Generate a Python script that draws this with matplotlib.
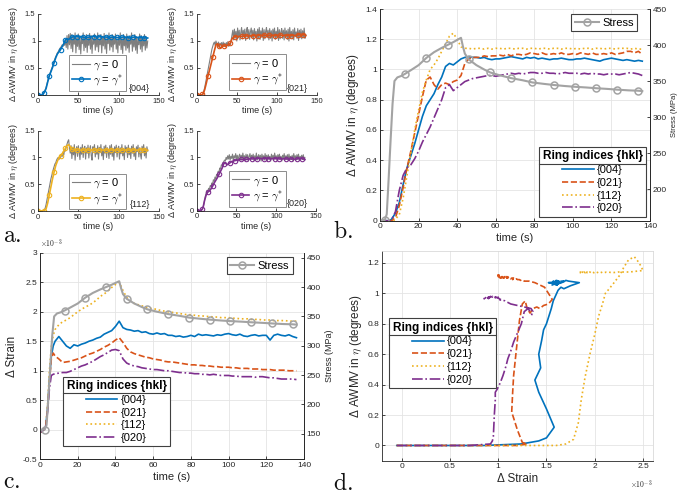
import numpy as np
import matplotlib
matplotlib.use('Agg')
import matplotlib.pyplot as plt
from matplotlib.lines import Line2D
from matplotlib.ticker import FuncFormatter

plt.rcParams['font.family'] = ['Liberation Sans', 'DejaVu Sans']
plt.rcParams['mathtext.fontset'] = 'cm'
plt.rcParams['axes.linewidth'] = 0.6

# ---------------- data ----------------
# sampling times (s) for the smoothed AWMV / strain curves
time_s = [0, 2, 3, 4, 5, 6, 7] + list(range(8, 137, 2))
# sampling times (s) for the raw (gamma = 0) AWMV curves in panel a
time_raw = list(range(0, 137))

hkl_labels = ['{004}', '{021}', '{112}', '{020}']

# Delta AWMV in eta (degrees), gamma = gamma*
awmv_004 = [0, 0, 0, 0, 0, 0.01, 0.03,
            0.05, 0.12, 0.24, 0.35, 0.43, 0.51, 0.60, 0.69, 0.76, 0.80,
            0.84, 0.90, 0.95, 1.02, 1.04, 1.03, 1.05, 1.07, 1.08, 1.085,
            1.08, 1.08, 1.075, 1.08, 1.07, 1.065, 1.07, 1.07, 1.075, 1.08,
            1.085, 1.08, 1.075, 1.07, 1.08, 1.075, 1.08, 1.07, 1.075, 1.07,
            1.065, 1.07, 1.07, 1.075, 1.07, 1.065, 1.065, 1.07, 1.07, 1.075,
            1.07, 1.065, 1.06, 1.055, 1.065, 1.07, 1.075, 1.07, 1.065, 1.06,
            1.065, 1.06, 1.055, 1.06, 1.055]
awmv_021 = [0, 0, 0, 0, 0, 0, 0.01,
            0.02, 0.10, 0.22, 0.35, 0.46, 0.58, 0.70, 0.82, 0.93, 0.95,
            0.90, 0.87, 0.90, 0.91, 0.90, 0.92, 0.93, 0.96, 1.04, 1.07,
            1.08, 1.08, 1.08, 1.09, 1.085, 1.09, 1.09, 1.095, 1.09, 1.10,
            1.09, 1.10, 1.10, 1.095, 1.10, 1.11, 1.105, 1.10, 1.11, 1.10,
            1.10, 1.105, 1.10, 1.11, 1.10, 1.10, 1.105, 1.10, 1.11, 1.105,
            1.10, 1.11, 1.10, 1.10, 1.105, 1.10, 1.11, 1.10, 1.105, 1.11,
            1.12, 1.12, 1.11, 1.12, 1.10]
awmv_112 = [0, 0, 0, 0, 0, 0, 0,
            0.01, 0.04, 0.15, 0.30, 0.45, 0.60, 0.73, 0.85, 0.93, 1.00,
            1.03, 1.07, 1.12, 1.17, 1.22, 1.24, 1.20, 1.15, 1.14, 1.14,
            1.135, 1.14, 1.14, 1.135, 1.14, 1.135, 1.14, 1.14, 1.135, 1.14,
            1.14, 1.135, 1.14, 1.14, 1.135, 1.14, 1.14, 1.135, 1.14, 1.14,
            1.135, 1.14, 1.14, 1.135, 1.14, 1.14, 1.135, 1.14, 1.135, 1.14,
            1.14, 1.135, 1.14, 1.14, 1.135, 1.14, 1.14, 1.135, 1.14, 1.14,
            1.14, 1.135, 1.14, 1.135, 1.135]
awmv_020 = [0, 0, 0, 0, 0, 0.01, 0.03,
            0.06, 0.20, 0.30, 0.35, 0.37, 0.41, 0.46, 0.52, 0.57, 0.62,
            0.68, 0.74, 0.80, 0.88, 0.90, 0.86, 0.88, 0.90, 0.92, 0.93,
            0.94, 0.945, 0.95, 0.955, 0.96, 0.96, 0.955, 0.96, 0.965, 0.97,
            0.975, 0.97, 0.975, 0.97, 0.975, 0.98, 0.98, 0.975, 0.975, 0.98,
            0.975, 0.975, 0.97, 0.975, 0.98, 0.975, 0.975, 0.975, 0.97, 0.975,
            0.97, 0.975, 0.97, 0.97, 0.965, 0.97, 0.97, 0.97, 0.965, 0.97,
            0.975, 0.98, 0.975, 0.97, 0.96]

# Delta strain (x 1e-3)
strain_004 = [-0.05, 0.0, 0.05, 0.35, 0.85, 1.24, 1.42,
              1.50, 1.58, 1.50, 1.42, 1.38, 1.44, 1.42, 1.45, 1.47, 1.50,
              1.52, 1.55, 1.57, 1.62, 1.65, 1.68, 1.75, 1.84, 1.73, 1.70,
              1.69, 1.67, 1.68, 1.65, 1.66, 1.63, 1.62, 1.64, 1.62, 1.63,
              1.60, 1.60, 1.58, 1.59, 1.57, 1.58, 1.60, 1.58, 1.62, 1.60,
              1.61, 1.60, 1.59, 1.61, 1.60, 1.62, 1.63, 1.61, 1.60, 1.62,
              1.59, 1.58, 1.60, 1.61, 1.59, 1.60, 1.60, 1.52, 1.60, 1.62,
              1.60, 1.59, 1.61, 1.58, 1.56]
strain_021 = [-0.05, 0.0, 0.05, 0.35, 0.80, 1.20, 1.30,
              1.25, 1.20, 1.14, 1.15, 1.16, 1.18, 1.20, 1.22, 1.25, 1.28,
              1.30, 1.33, 1.36, 1.40, 1.43, 1.47, 1.52, 1.56, 1.48, 1.38,
              1.32, 1.29, 1.27, 1.25, 1.23, 1.22, 1.20, 1.19, 1.18, 1.16,
              1.15, 1.15, 1.14, 1.13, 1.12, 1.11, 1.10, 1.10, 1.09, 1.09,
              1.08, 1.08, 1.07, 1.07, 1.06, 1.06, 1.06, 1.05, 1.05, 1.04,
              1.04, 1.04, 1.03, 1.03, 1.03, 1.02, 1.02, 1.02, 1.01, 1.01,
              1.01, 1.01, 1.00, 1.00, 1.00]
strain_112 = [-0.05, 0.0, 0.05, 0.40, 1.00, 1.40, 1.60,
              1.70, 1.78, 1.83, 1.86, 1.90, 1.95, 2.00, 2.04, 2.08, 2.11,
              2.15, 2.20, 2.26, 2.30, 2.35, 2.41, 2.46, 2.50, 2.36, 2.24,
              2.18, 2.14, 2.12, 2.10, 2.08, 2.06, 2.05, 2.04, 2.02, 2.01,
              2.00, 1.99, 1.98, 1.97, 1.96, 1.95, 1.95, 1.94, 1.93, 1.93,
              1.92, 1.92, 1.91, 1.91, 1.90, 1.90, 1.90, 1.89, 1.89, 1.88,
              1.88, 1.88, 1.87, 1.87, 1.87, 1.86, 1.86, 1.86, 1.85, 1.85,
              1.85, 1.85, 1.84, 1.84, 1.84]
strain_020 = [-0.05, 0.0, 0.05, 0.30, 0.70, 0.92, 0.94,
              0.95, 0.96, 0.97, 0.97, 0.99, 1.02, 1.05, 1.08, 1.10, 1.13,
              1.16, 1.20, 1.24, 1.27, 1.31, 1.35, 1.36, 1.34, 1.20, 1.13,
              1.10, 1.08, 1.07, 1.05, 1.04, 1.03, 1.02, 1.02, 1.01, 1.00,
              1.00, 0.99, 0.98, 0.97, 0.97, 0.96, 0.96, 0.95, 0.95, 0.94,
              0.94, 0.93, 0.94, 0.93, 0.92, 0.92, 0.92, 0.91, 0.91, 0.90,
              0.90, 0.90, 0.90, 0.89, 0.90, 0.90, 0.89, 0.88, 0.88, 0.87,
              0.86, 0.86, 0.86, 0.86, 0.85]

# applied stress (MPa)
stress_t = [0, 2.5, 3.5, 4.5, 5.5, 6.5, 7.5, 9, 11, 13,
            16, 20, 24, 28, 32, 35, 38, 42, 43, 44,
            46, 50, 54, 57, 62, 68, 74, 79, 85, 90,
            96, 101, 107, 112, 118, 123, 129, 134, 136]
stress_mpa = [157, 157, 165, 215, 268, 318, 350, 355, 357, 360,
              365, 372, 382, 390, 396, 400, 404, 410, 398, 388,
              380, 372, 366, 362, 358, 354, 351, 348, 346, 344.5,
              343, 342, 341, 340, 339, 338, 337, 336.5, 336]

# raw AWMV (gamma = 0), 1 s steps
raw_004 = [0, 0, 0, 0, 0, 0, 0.02, 0.04, 0.06, 0.10,
           0.14, 0.20, 0.26, 0.32, 0.37, 0.41, 0.45, 0.49, 0.53, 0.58,
           0.63, 0.67, 0.71, 0.74, 0.78, 0.80, 0.83, 0.86, 0.88, 0.90,
           0.93, 0.90, 0.97, 0.92, 1.03, 0.88, 1.10, 0.85, 1.12, 0.93,
           1.14, 0.86, 1.12, 0.80, 1.08, 0.94, 1.15, 0.78, 1.06, 0.90,
           1.13, 0.84, 1.10, 0.76, 1.04, 0.95, 1.15, 0.82, 1.08, 0.88,
           1.12, 0.79, 1.06, 0.92, 1.14, 0.85, 1.10, 0.77, 1.05, 0.94,
           1.13, 0.83, 1.08, 0.89, 1.15, 0.80, 1.04, 0.93, 1.12, 0.78,
           1.08, 0.91, 1.14, 0.85, 1.06, 0.77, 1.10, 0.95, 1.15, 0.83,
           1.06, 0.89, 1.12, 0.80, 1.08, 0.94, 1.13, 0.85, 1.04, 0.78,
           1.10, 0.92, 1.15, 0.84, 1.06, 0.77, 1.12, 0.91, 1.08, 0.83,
           1.13, 0.87, 1.06, 0.79, 1.10, 0.94, 1.15, 0.81, 1.04, 0.89,
           1.12, 0.83, 1.08, 0.77, 1.06, 0.93, 1.13, 0.85, 1.10, 0.80,
           1.06, 0.91, 1.12, 0.83, 1.08, 0.87, 1.00]
raw_021 = [0, 0, 0, 0, 0, 0, 0, 0.01, 0.03, 0.08,
           0.14, 0.22, 0.30, 0.38, 0.46, 0.54, 0.62, 0.70, 0.78, 0.85,
           0.90, 0.95, 0.98, 0.92, 1.00, 0.95, 0.90, 0.98, 0.88, 0.96,
           0.92, 0.97, 0.90, 0.98, 0.91, 0.96, 0.89, 0.97, 0.92, 0.99,
           0.90, 0.96, 0.93, 1.02, 1.10, 1.20, 1.02, 1.22, 1.05, 1.18,
           1.00, 1.24, 1.06, 1.20, 1.02, 1.16, 1.25, 1.04, 1.20, 1.08,
           1.22, 1.01, 1.18, 1.25, 1.05, 1.21, 1.03, 1.17, 1.24, 1.06,
           1.20, 1.02, 1.23, 1.08, 1.18, 1.00, 1.22, 1.05, 1.25, 1.03,
           1.19, 1.07, 1.24, 1.01, 1.21, 1.04, 1.18, 1.25, 1.06, 1.20,
           1.02, 1.23, 1.05, 1.19, 1.00, 1.22, 1.07, 1.24, 1.03, 1.18,
           1.06, 1.25, 1.01, 1.21, 1.04, 1.17, 1.23, 1.05, 1.20, 1.02,
           1.24, 1.07, 1.19, 1.03, 1.22, 1.00, 1.25, 1.06, 1.18, 1.04,
           1.21, 1.02, 1.24, 1.08, 1.17, 1.05, 1.23, 1.01, 1.20, 1.06,
           1.22, 1.04, 1.19, 1.07, 1.24, 1.05, 1.12]
raw_112 = [0, 0, 0, 0, 0, 0, 0, 0, 0.02, 0.06,
           0.12, 0.20, 0.28, 0.36, 0.44, 0.52, 0.60, 0.66, 0.72, 0.78,
           0.83, 0.88, 0.90, 0.95, 0.98, 1.00, 0.96, 1.03, 1.00, 1.06,
           1.02, 1.10, 1.05, 1.15, 1.12, 1.20, 1.25, 1.30, 1.33, 1.18,
           1.08, 1.22, 0.98, 1.18, 1.05, 1.24, 0.95, 1.15, 1.20, 1.02,
           1.22, 1.10, 0.96, 1.19, 1.06, 1.24, 1.00, 1.16, 1.21, 0.97,
           1.18, 1.08, 1.23, 0.99, 1.15, 1.22, 1.04, 0.95, 1.20, 1.12,
           1.24, 1.01, 1.17, 1.06, 1.22, 0.97, 1.19, 1.10, 1.24, 1.03,
           1.16, 0.96, 1.21, 1.08, 1.23, 1.00, 1.18, 1.12, 0.98, 1.22,
           1.06, 1.24, 1.02, 1.17, 0.95, 1.20, 1.09, 1.23, 1.01, 1.15,
           1.21, 0.97, 1.18, 1.07, 1.24, 1.03, 1.16, 0.96, 1.22, 1.10,
           1.19, 1.00, 1.23, 1.05, 1.17, 0.98, 1.21, 1.08, 1.24, 1.02,
           1.16, 0.96, 1.20, 1.11, 1.23, 1.01, 1.18, 1.06, 0.97, 1.21,
           1.09, 1.24, 1.03, 1.17, 0.99, 1.20, 1.12]
raw_020 = [0, 0, 0, 0, 0, 0, 0.01, 0.03, 0.06, 0.12,
           0.20, 0.28, 0.33, 0.38, 0.36, 0.42, 0.40, 0.47, 0.45, 0.52,
           0.50, 0.58, 0.55, 0.63, 0.60, 0.68, 0.66, 0.74, 0.72, 0.80,
           0.78, 0.86, 0.84, 0.90, 0.92, 0.95, 0.93, 1.00, 0.96, 1.03,
           0.97, 1.05, 0.95, 1.02, 0.98, 1.06, 0.94, 1.03, 0.99, 1.07,
           0.96, 1.04, 0.93, 1.02, 1.06, 0.97, 1.04, 0.95, 1.08, 0.99,
           1.03, 0.94, 1.06, 0.98, 1.05, 0.93, 1.02, 1.07, 0.96, 1.04,
           0.99, 1.06, 0.94, 1.03, 0.97, 1.08, 0.95, 1.02, 1.05, 0.96,
           1.04, 0.93, 1.06, 0.99, 1.03, 0.95, 1.07, 0.97, 1.04, 0.94,
           1.05, 0.98, 1.02, 0.93, 1.06, 0.97, 1.04, 0.95, 1.08, 0.99,
           1.03, 0.94, 1.05, 0.98, 1.06, 0.96, 1.02, 0.93, 1.04, 0.99,
           1.07, 0.95, 1.03, 0.97, 1.05, 0.94, 1.06, 0.98, 1.02, 0.96,
           1.04, 0.93, 1.07, 0.99, 1.03, 0.95, 1.05, 0.97, 1.06, 0.94,
           1.02, 0.98, 1.04, 0.96, 1.05, 0.95, 1.00]

# ---------------- styles ----------------
colors = ['#0072BD', '#D95319', '#EDB120', '#7E2F8E']
styles = ['-', '--', ':', '-.']
stress_color = '#a3a3a3'
ink = '#262626'
grid_c = '#e4e4e4'

W, H = 685, 494


def rect(l, t, r, b):
    return [l / W, 1 - b / H, (r - l) / W, (b - t) / H]


fmt_g = FuncFormatter(lambda v, p: '%g' % (round(v, 6) + 0.0))


def style_axes(ax, fs):
    ax.tick_params(direction='in', length=2.5, width=0.6, colors=ink,
                   labelsize=fs, pad=2)
    for s in ax.spines.values():
        s.set_color(ink)
        s.set_linewidth(0.6)
    ax.xaxis.set_major_formatter(fmt_g)
    ax.yaxis.set_major_formatter(fmt_g)


def ring_legend(ax, handles, **kw):
    leg = ax.legend(handles, hkl_labels, title='Ring indices {hkl}',
                    title_fontproperties={'weight': 'bold', 'size': 8.5},
                    fontsize=8, fancybox=False, edgecolor='#404040',
                    framealpha=1, handlelength=2.8, handletextpad=0.3,
                    labelspacing=0.25, borderaxespad=0, borderpad=0.3,
                    alignment='center', **kw)
    leg.get_frame().set_linewidth(0.8)
    return leg


def stress_legend(ax, handle, anchor):
    leg = ax.legend([handle], ['Stress'], loc='upper right',
                    bbox_to_anchor=anchor, borderaxespad=0, fontsize=8,
                    fancybox=False, edgecolor='#404040', framealpha=1,
                    handlelength=2.2, handletextpad=0.3, borderpad=0.3)
    leg.get_frame().set_linewidth(0.8)
    return leg


fig = plt.figure(figsize=(6.85, 4.94), dpi=100)

# ---------------- panel a ----------------
ts = np.array(time_s)
mk_a = [int(np.argmin(np.abs(ts - m))) for m in range(0, 137, 7)]
awmv_all = [awmv_004, awmv_021, awmv_112, awmv_020]
strain_all = [strain_004, strain_021, strain_112, strain_020]
raw_all = [raw_004, raw_021, raw_112, raw_020]
a_rects = [rect(38, 14, 159, 95), rect(196.7, 14, 317, 95),
           rect(38, 130.7, 159, 211), rect(196.7, 130.7, 316, 210.7)]
a_leg = [(0.256, 0.05), (0.27, 0.06), (0.26, 0.02), (0.27, 0.05)]
a_order = [0, 1, 2, 3]

for k in a_order:
    ax = fig.add_axes(a_rects[k])
    ax.plot(time_raw, raw_all[k], color='#7f7f7f', lw=0.8,
            label=r'$\gamma$ = 0')
    ax.plot(time_s, awmv_all[k], color=colors[k], lw=1.2, marker='o',
            ms=3.2, mfc='none', mew=0.8, markevery=mk_a,
            label=r'$\gamma$ = $\gamma^{*}$')
    ax.set_xlim(0, 150)
    ax.set_ylim(0, 1.5)
    ax.set_xticks([0, 50, 100, 150])
    ax.set_yticks([0, 0.5, 1, 1.5])
    style_axes(ax, 5.5)
    ax.spines['top'].set_visible(False)
    ax.spines['right'].set_visible(False)
    ax.set_xlabel('time (s)', fontsize=6.5, labelpad=1, color=ink)
    ax.set_ylabel(r'Δ AWMV in $\eta$ (degrees)', fontsize=6.5, labelpad=3,
                  color=ink)
    leg = ax.legend(loc='lower left', bbox_to_anchor=a_leg[k],
                    borderaxespad=0, fontsize=8, fancybox=False,
                    edgecolor='#8c8c8c', framealpha=1, handlelength=1.6,
                    handletextpad=0.3, labelspacing=0.15, borderpad=0.25)
    leg.get_frame().set_linewidth(0.7)
    ax.text(0.84, 0.086, hkl_labels[k], transform=ax.transAxes,
            ha='center', va='center', fontsize=6.5, color=ink)

# ---------------- panel b ----------------
ax_b = fig.add_axes(rect(380, 9, 650, 220.7))
ring_b = []
for k in range(4):
    ln, = ax_b.plot(time_s, awmv_all[k], color=colors[k], ls=styles[k],
                    lw=1.2)
    ring_b.append(ln)
ax_b.set_xlim(0, 140)
ax_b.set_ylim(0, 1.4)
ax_b.set_xticks(range(0, 141, 20))
ax_b.set_yticks(np.arange(0, 1.41, 0.2))
style_axes(ax_b, 6)
ax_b.grid(True, color=grid_c, lw=0.6)
ax_b.set_axisbelow(True)
ax_b.set_xlabel('time (s)', fontsize=8, labelpad=2, color=ink)
ax_b.set_ylabel(r'Δ AWMV in $\eta$ (degrees)', fontsize=8.5, labelpad=3,
                color=ink)
ax_b2 = ax_b.twinx()
st_b, = ax_b2.plot(stress_t, stress_mpa, color=stress_color, lw=1.5,
                   marker='o', ms=5, mfc='none', mew=1.1,
                   markevery=[1, 9, 12, 15, 20, 23, 25, 27, 29, 31, 33, 35, 37])
ax_b2.set_ylim(156, 450)
ax_b2.set_yticks(range(200, 451, 50))
style_axes(ax_b2, 6)
ax_b2.set_ylabel('Stress (MPa)', fontsize=5.5, labelpad=3, color=ink)
for a in (ax_b, ax_b2):
    a.spines['top'].set_visible(False)
lb = ring_legend(ax_b2, ring_b, loc='lower right',
                 bbox_to_anchor=(0.985, 0.019))
ax_b2.add_artist(lb)
stress_legend(ax_b2, st_b, (0.953, 0.975))

# ---------------- panel c ----------------
ax_c = fig.add_axes(rect(40, 252.7, 304, 459.3))
ring_c = []
for k in range(4):
    ln, = ax_c.plot(time_s, strain_all[k], color=colors[k], ls=styles[k],
                    lw=1.2)
    ring_c.append(ln)
ax_c.set_xlim(0, 140)
ax_c.set_ylim(-0.5, 3)
ax_c.set_xticks(range(0, 141, 20))
ax_c.set_yticks(np.arange(-0.5, 3.01, 0.5))
style_axes(ax_c, 6)
ax_c.grid(True, color=grid_c, lw=0.6)
ax_c.set_axisbelow(True)
ax_c.set_xlabel('time (s)', fontsize=8, labelpad=2, color=ink)
ax_c.set_ylabel('Δ Strain', fontsize=8.5, labelpad=3, color=ink)
ax_c.text(0.0, 1.012, r'$\times 10^{-3}$', transform=ax_c.transAxes,
          fontsize=5.5, ha='left', va='bottom', color=ink)
ax_c2 = ax_c.twinx()
st_c, = ax_c2.plot(stress_t, stress_mpa, color=stress_color, lw=1.5,
                   marker='o', ms=5, mfc='none', mew=1.1,
                   markevery=[1, 9, 12, 15, 20, 23, 25, 27, 29, 31, 33, 35, 37])
ax_c2.set_ylim(106.4, 458.6)
ax_c2.set_yticks(range(150, 451, 50))
style_axes(ax_c2, 6)
ax_c2.set_ylabel('Stress (MPa)', fontsize=6.5, labelpad=3, color=ink)
for a in (ax_c, ax_c2):
    a.spines['top'].set_visible(False)
lc = ring_legend(ax_c2, ring_c, loc='upper left',
                 bbox_to_anchor=(0.088, 0.40))
ax_c2.add_artist(lc)
stress_legend(ax_c2, st_c, (0.957, 0.978))

# ---------------- panel d ----------------
ax_d = fig.add_axes(rect(382.3, 250.7, 652.7, 460.7))
ring_d = []
for k in range(4):
    ln, = ax_d.plot(strain_all[k], awmv_all[k], color=colors[k],
                    ls=styles[k], lw=1.2)
    ring_d.append(ln)
ax_d.set_xlim(-0.2, 2.6)
ax_d.set_ylim(-0.1, 1.28)
ax_d.set_xticks(np.arange(0, 2.51, 0.5))
ax_d.set_yticks(np.arange(0, 1.21, 0.2))
style_axes(ax_d, 6)
ax_d.grid(True, color=grid_c, lw=0.6)
ax_d.set_axisbelow(True)
ax_d.spines['top'].set_color('#d9d9d9')
ax_d.spines['right'].set_color('#d9d9d9')
ax_d.set_xlabel('Δ Strain', fontsize=8.5, labelpad=2, color=ink)
ax_d.set_ylabel(r'Δ AWMV in $\eta$ (degrees)', fontsize=8.5, labelpad=3,
                color=ink)
ax_d.text(1.0, -0.085, r'$\times 10^{-3}$', transform=ax_d.transAxes,
          fontsize=5.5, ha='right', va='top', color=ink)
ld = ring_legend(ax_d, ring_d, loc='upper left',
                 bbox_to_anchor=(0.026, 0.678))

# ---------------- panel letters ----------------
for lab, x, y in [('a.', 3, 242), ('b.', 333, 238), ('c.', 3, 488),
                  ('d.', 333, 490)]:
    fig.text(x / W, 1 - y / H, r'$\mathrm{%s}$' % lab, fontsize=17,
             va='baseline', ha='left', color='#111111')

# rule under each legend title (MATLAB style)
fig.canvas.draw()
rend = fig.canvas.get_renderer()
inv = fig.transFigure.inverted()
for leg in (lb, lc, ld):
    tb = leg.get_title().get_window_extent(rend)
    fb = leg.get_frame().get_window_extent(rend)
    yline = tb.y0 - 1.5
    (x0, y0), (x1, y1) = inv.transform([(fb.x0, yline), (fb.x1, yline)])
    fig.add_artist(Line2D([x0, x1], [y0, y1], color='#404040', lw=0.8,
                          zorder=10))

fig.savefig('out.png', dpi=100)
